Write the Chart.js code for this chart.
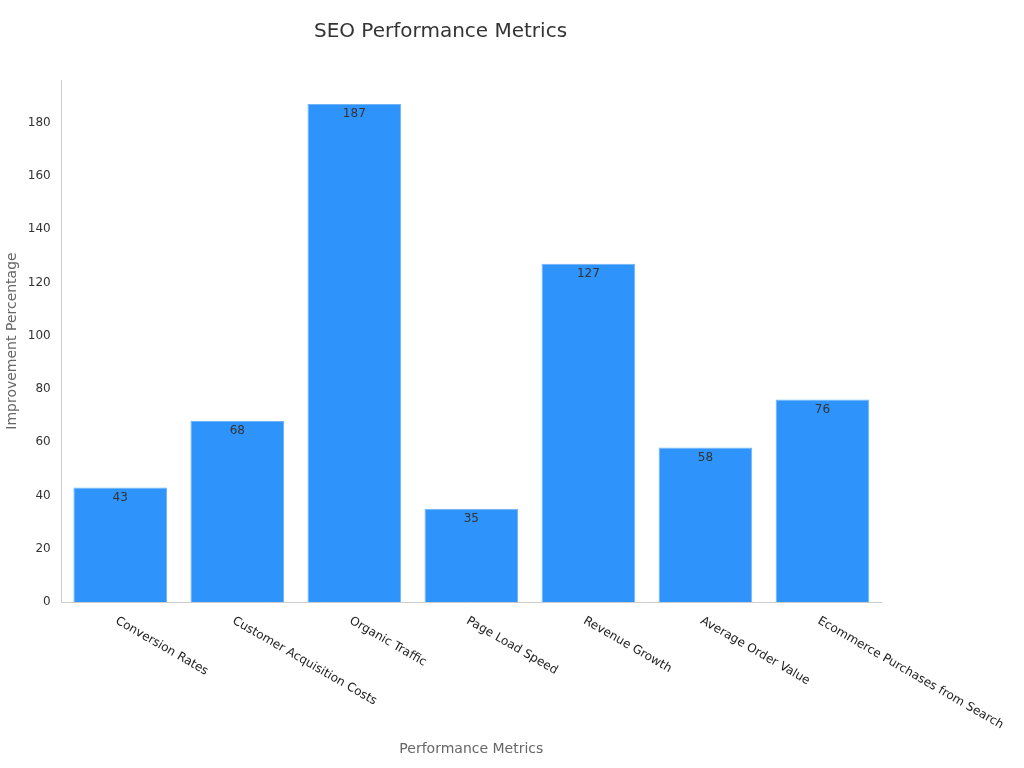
<!DOCTYPE html>
<html><head><meta charset="utf-8">
<script src="https://cdn.jsdelivr.net/npm/chart.js@4"></script>
<style>body{margin:0;background:#fff}#w{width:1024px;height:768px}</style>
</head><body><div id="w"><canvas id="c"></canvas></div>
<script>
const categories = ["Conversion Rates","Customer Acquisition Costs","Organic Traffic","Page Load Speed","Revenue Growth","Average Order Value","Ecommerce Purchases from Search"];
const values = [43,68,187,35,127,58,76];
const FONT = "'DejaVu Sans', sans-serif";
const labelsPlugin = {
  id:'lbl',
  afterDatasetsDraw(chart){
    const ctx = chart.ctx, meta = chart.getDatasetMeta(0), xs = chart.scales.x;
    ctx.save();
    ctx.font = "12px " + FONT;
    ctx.fillStyle = "#333";
    ctx.textAlign = "center"; ctx.textBaseline = "top";
    meta.data.forEach((b,i)=>{ ctx.fillText(String(values[i]), b.x, b.y+4); });
    ctx.fillStyle = "#222"; ctx.textAlign = "left"; ctx.textBaseline = "middle";
    categories.forEach((c,i)=>{
      const x = xs.getPixelForValue(i);
      ctx.save(); ctx.translate(x-4, xs.top+18); ctx.rotate(Math.PI/6);
      ctx.fillText(c,0,0); ctx.restore();
    });
    ctx.restore();
  }
};
new Chart(document.getElementById('c'), {
  type:'bar',
  data:{labels:categories, datasets:[{data:values, backgroundColor:'#2e93fa', borderColor:'#6fb4f8', borderWidth:1, barPercentage:0.8, categoryPercentage:1}]},
  options:{
    responsive:true, maintainAspectRatio:false, animation:false,
    layout:{padding:{left:0,right:143,top:10,bottom:6}},
    plugins:{legend:{display:false}, tooltip:{enabled:false},
      title:{display:true,text:'SEO Performance Metrics',color:'#333',font:{family:FONT,size:20,weight:'normal'},padding:{top:10,bottom:36}}},
    scales:{
      x:{grid:{display:false,drawTicks:true}, border:{color:'#ccc'},
        ticks:{display:false},
        afterFit(s){ s.height = 160; },
        title:{display:true,text:'Performance Metrics',color:'#666',font:{family:FONT,size:14},padding:{top:0}}},
      y:{min:0,max:196,grid:{display:false}, border:{color:'#ccc'},
        afterBuildTicks(s){ s.ticks = [0,20,40,60,80,100,120,140,160,180].map(v=>({value:v})); },
        ticks:{color:'#333',font:{family:FONT,size:12}},
        title:{display:true,text:'Improvement Percentage',color:'#666',font:{family:FONT,size:14}}}
    }
  },
  plugins:[labelsPlugin]
});
</script></body></html>
